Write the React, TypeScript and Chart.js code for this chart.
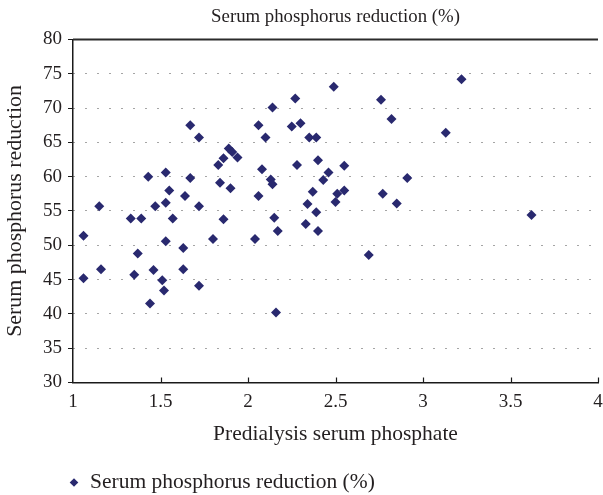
import React, { useEffect, useRef } from 'react';
import { Chart, registerables } from 'chart.js';

Chart.register(...registerables);

// ---- data ----
const phosphate = [
  1.06, 1.06, 1.15, 1.16, 1.33, 1.35, 1.37, 1.39, 1.43, 1.44,
  1.46, 1.47, 1.51, 1.52, 1.53, 1.53, 1.53, 1.55, 1.57, 1.63,
  1.63, 1.64, 1.67, 1.67, 1.72, 1.72, 1.72, 1.80, 1.83, 1.84,
  1.86, 1.86, 1.89, 1.91, 1.90, 1.94, 2.04, 2.06, 2.06, 2.08,
  2.10, 2.13, 2.14, 2.14, 2.15, 2.17, 2.16, 2.25, 2.27, 2.28,
  2.30, 2.33, 2.34, 2.35, 2.37, 2.39, 2.39, 2.40, 2.40, 2.43,
  2.46, 2.49, 2.50, 2.51, 2.55, 2.55, 2.69, 2.76, 2.77, 2.82,
  2.85, 2.91, 3.13, 3.22, 3.62,
];
const reduction = [
  45.2, 51.4, 55.7, 46.5, 53.9, 45.7, 48.8, 53.9, 60.0, 41.5,
  46.4, 55.7, 44.9, 43.4, 50.6, 56.2, 60.6, 58.0, 53.9, 46.5,
  49.6, 57.2, 67.5, 59.8, 65.7, 55.7, 44.1, 50.9, 61.7, 59.1,
  53.8, 62.7, 64.1, 63.6, 58.3, 62.8, 50.9, 57.2, 67.5, 61.1,
  65.7, 59.6, 58.9, 70.1, 54.0, 52.1, 40.2, 67.3, 71.4, 61.7,
  67.8, 53.1, 56.0, 65.7, 57.8, 65.7, 54.8, 52.1, 62.4, 59.5,
  60.6, 73.1, 56.3, 57.5, 58.0, 61.6, 48.6, 71.2, 57.5, 68.4,
  56.1, 59.8, 66.4, 74.2, 54.4,
];
const xTickValues = [1, 1.5, 2, 2.5, 3, 3.5, 4];
const xTickLabels = ['1', '1.5', '2', '2.5', '3', '3.5', '4'];
const yTickValues = [30, 35, 40, 45, 50, 55, 60, 65, 70, 75, 80];
const yTickLabels = ['30', '35', '40', '45', '50', '55', '60', '65', '70', '75', '80'];
const chartTitle = 'Serum phosphorus reduction (%)';
const xTitle = 'Predialysis serum phosphate';
const yTitle = 'Serum phosphorus reduction';
const seriesLabel = 'Serum phosphorus reduction (%)';

const FONT = 'Liberation Serif';
const TITLE_FS = 18.8;
const TICK_FS = 19;
const AXIS_FS = 21.5;
const YAXIS_FS = 21.9;
const LEGEND_FS = 21.5;
const TEXT = '#231f20';
const MARK = '#29296f';

const labelFor = (vals: number[], labels: string[], v: number) => {
  const i = vals.findIndex((t) => Math.abs(t - v) < 1e-9);
  return i >= 0 ? labels[i] : '';
};

const decorPlugin = {
  id: 'decor',
  afterDraw(chart: any) {
    const { ctx, chartArea, scales } = chart;
    const xs = scales.x;
    ctx.save();
    // top frame line
    ctx.strokeStyle = '#2b2b2b';
    ctx.lineWidth = 2;
    ctx.beginPath();
    ctx.moveTo(chartArea.left, chartArea.top);
    ctx.lineTo(chartArea.right, chartArea.top);
    ctx.stroke();
    // inward x tick marks
    ctx.strokeStyle = '#1a1a1a';
    ctx.lineWidth = 1.2;
    xTickValues.slice(1).forEach((v) => {
      const px = Math.round(xs.getPixelForValue(v)) + 0.5;
      ctx.beginPath();
      ctx.moveTo(px, chartArea.bottom);
      ctx.lineTo(px, chartArea.bottom - 5);
      ctx.stroke();
    });
    // legend
    const ds = chart.data.datasets[0];
    const cx = chartArea.left + 1;
    const cy = chart.height - 12.5;
    const r = 4.3;
    ctx.fillStyle = ds.backgroundColor;
    ctx.beginPath();
    ctx.moveTo(cx - r, cy);
    ctx.lineTo(cx, cy - r);
    ctx.lineTo(cx + r, cy);
    ctx.lineTo(cx, cy + r);
    ctx.closePath();
    ctx.fill();
    ctx.fillStyle = TEXT;
    ctx.font = `${LEGEND_FS}px "${FONT}"`;
    ctx.textBaseline = 'middle';
    ctx.textAlign = 'left';
    ctx.fillText(ds.label, cx + 16, cy - 0.5);
    ctx.restore();
  },
};

export default function App() {
  const ref = useRef<HTMLCanvasElement | null>(null);

  useEffect(() => {
    document.body.style.margin = '0';
    if (!ref.current) return;
    const chart = new Chart(ref.current, {
      type: 'scatter',
      data: {
        datasets: [
          {
            label: seriesLabel,
            data: phosphate.map((x, i) => ({ x, y: reduction[i] })),
            backgroundColor: MARK,
            borderColor: MARK,
            borderWidth: 0,
            pointStyle: 'rectRot',
            pointRadius: 5,
            pointHoverRadius: 5,
          },
        ],
      },
      options: {
        animation: false,
        responsive: false,
        maintainAspectRatio: false,
        devicePixelRatio: 1,
        events: [],
        layout: { padding: { left: 0, right: 1, top: 0, bottom: 40 } },
        plugins: {
          legend: { display: false },
          tooltip: { enabled: false },
          title: {
            display: true,
            fullSize: false,
            text: chartTitle,
            color: TEXT,
            font: { family: FONT, size: TITLE_FS, weight: 'normal' },
            padding: { top: 5.6, bottom: 11.3 },
          },
        },
        scales: {
          x: {
            type: 'linear',
            min: 1,
            max: 4,
            afterBuildTicks: (s: any) => {
              s.ticks = xTickValues.map((v) => ({ value: v }));
            },
            afterFit: (s: any) => {
              s.height = 72.5;
              s.paddingRight = 0;
              s.paddingLeft = 0;
            },
            ticks: {
              autoSkip: false,
              maxRotation: 0,
              padding: 8.1,
              color: TEXT,
              font: { family: FONT, size: TICK_FS },
              callback: (v: any) => labelFor(xTickValues, xTickLabels, Number(v)),
            },
            grid: { display: false, drawTicks: false },
            border: { display: true, color: '#1a1a1a', width: 1.5 },
            title: {
              display: true,
              text: xTitle,
              color: TEXT,
              font: { family: FONT, size: AXIS_FS },
              padding: { top: 0, bottom: 7.5 },
            },
          },
          y: {
            type: 'linear',
            min: 30,
            max: 80,
            afterBuildTicks: (s: any) => {
              s.ticks = yTickValues.map((v) => ({ value: v }));
            },
            afterFit: (s: any) => {
              s.width = 73;
            },
            ticks: {
              padding: 6,
              color: TEXT,
              font: { family: FONT, size: TICK_FS },
              callback: (v: any) => labelFor(yTickValues, yTickLabels, Number(v)),
            },
            grid: {
              drawTicks: true,
              tickLength: 5,
              tickColor: '#1a1a1a',
              tickWidth: 1,
              lineWidth: 1,
              color: (c: any) =>
                c.tick && c.tick.value > 30 && c.tick.value < 80 ? '#4a4a4a' : 'rgba(0,0,0,0)',
            },
            border: { display: true, color: '#1a1a1a', width: 1.5, dash: [1, 11] },
            title: {
              display: true,
              text: yTitle,
              color: TEXT,
              font: { family: FONT, size: YAXIS_FS },
              padding: { top: 2.5, bottom: 0 },
            },
          },
        },
      },
      plugins: [decorPlugin],
    });
    return () => chart.destroy();
  }, []);

  return (
    <div style={{ width: 603, height: 495, background: '#fff' }}>
      <canvas ref={ref} width={603} height={495} />
    </div>
  );
}
